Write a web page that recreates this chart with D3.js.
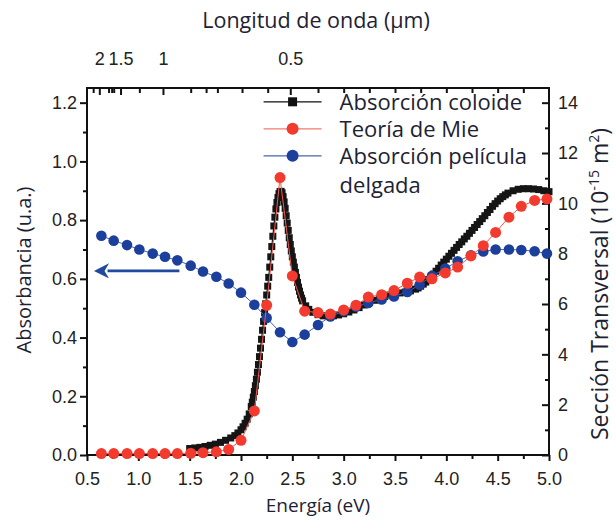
<!DOCTYPE html>
<html>
<head>
<meta charset="utf-8">
<script src="https://cdn.jsdelivr.net/npm/d3@7"></script>
<style>
  body { margin: 0; background: #fff; }
  .tick text { font-family: "Liberation Sans", Arial, sans-serif; font-size: 18px; fill: #222; }
  .title { font-family: "Open Sans", sans-serif; font-size: 19px; fill: #1d2233; }
</style>
</head>
<body>
<div id="chart"></div>
<script>
// Absorción coloide (black squares) - energy (eV) / absorbance
var coloideE = [1.50, 1.55, 1.60, 1.65, 1.70, 1.75, 1.80, 1.85, 1.90, 1.94, 1.97, 2.00, 2.02, 2.04, 2.06, 2.08,
  2.10, 2.11, 2.12, 2.13, 2.14, 2.15, 2.16, 2.17, 2.18, 2.19, 2.20, 2.21, 2.22, 2.23, 2.24, 2.25, 2.26, 2.27, 2.28, 2.29,
  2.30, 2.31, 2.32, 2.33, 2.34, 2.35, 2.36, 2.37, 2.38, 2.39, 2.40, 2.41, 2.42, 2.43, 2.44, 2.45, 2.46, 2.47, 2.48, 2.49,
  2.50, 2.51, 2.52, 2.53, 2.54, 2.55, 2.56, 2.57, 2.58, 2.59, 2.60, 2.63, 2.66, 2.70, 2.75, 2.80, 2.85, 2.90, 2.95,
  3.00, 3.05, 3.10, 3.15, 3.20, 3.25, 3.30, 3.35, 3.40, 3.45, 3.50, 3.55, 3.60, 3.65, 3.70, 3.725, 3.75, 3.775, 3.80, 3.825,
  3.85, 3.875, 3.90, 3.925, 3.95, 3.975, 4.00, 4.025, 4.05, 4.075, 4.10, 4.125, 4.15, 4.175, 4.20, 4.225, 4.25, 4.275,
  4.30, 4.325, 4.35, 4.375, 4.40, 4.425, 4.45, 4.475, 4.50, 4.525, 4.55, 4.575, 4.60, 4.65, 4.70, 4.75, 4.80, 4.85,
  4.90, 4.95, 5.00];
var coloideA = [0.022, 0.024, 0.026, 0.029, 0.033, 0.037, 0.043, 0.050, 0.058, 0.066, 0.075, 0.086, 0.096, 0.108, 0.122, 0.140,
  0.165, 0.180, 0.197, 0.216, 0.236, 0.258, 0.282, 0.308, 0.335, 0.364, 0.394, 0.425, 0.455, 0.485, 0.515, 0.545, 0.575, 0.605, 0.640, 0.675,
  0.710, 0.745, 0.780, 0.810, 0.838, 0.860, 0.877, 0.890, 0.897, 0.898, 0.893, 0.880, 0.862, 0.840, 0.815, 0.790, 0.765, 0.740, 0.717, 0.695,
  0.675, 0.657, 0.640, 0.622, 0.605, 0.588, 0.572, 0.558, 0.545, 0.534, 0.525, 0.508, 0.496, 0.486, 0.478, 0.474, 0.473, 0.474, 0.477,
  0.481, 0.487, 0.494, 0.502, 0.511, 0.519, 0.527, 0.534, 0.540, 0.545, 0.549, 0.552, 0.555, 0.559, 0.565, 0.569, 0.575, 0.582, 0.589, 0.597,
  0.606, 0.616, 0.626, 0.636, 0.647, 0.657, 0.667, 0.677, 0.687, 0.697, 0.707, 0.717, 0.726, 0.736, 0.745, 0.755, 0.765, 0.775,
  0.785, 0.795, 0.805, 0.815, 0.826, 0.836, 0.847, 0.856, 0.865, 0.873, 0.880, 0.886, 0.892, 0.900, 0.905, 0.907, 0.907, 0.906,
  0.904, 0.900, 0.897];

// Teoría de Mie (red) and Absorción película delgada (blue) share one energy grid
var gridE = [0.64, 0.76, 0.89, 1.01, 1.14, 1.26, 1.38, 1.51, 1.63, 1.76, 1.88, 2.00, 2.13, 2.25, 2.38, 2.50, 2.62, 2.75,
  2.87, 3.00, 3.12, 3.24, 3.37, 3.49, 3.62, 3.74, 3.86, 3.99, 4.11, 4.24, 4.36, 4.48, 4.61, 4.73, 4.86, 4.98];
var mieA = [0.005, 0.005, 0.005, 0.005, 0.005, 0.005, 0.005, 0.006, 0.008, 0.011, 0.019, 0.050, 0.150, 0.510, 0.945, 0.610, 0.490, 0.485,
  0.480, 0.494, 0.510, 0.538, 0.546, 0.560, 0.585, 0.606, 0.600, 0.620, 0.640, 0.678, 0.713, 0.758, 0.810, 0.847, 0.867, 0.872];
var peliculaA = [0.747, 0.730, 0.715, 0.700, 0.686, 0.675, 0.663, 0.645, 0.625, 0.607, 0.584, 0.553, 0.512, 0.467, 0.418, 0.385, 0.410, 0.443,
  0.472, 0.490, 0.505, 0.518, 0.530, 0.540, 0.555, 0.580, 0.610, 0.635, 0.660, 0.680, 0.693, 0.700, 0.700, 0.698, 0.694, 0.686];

// axis ticks
var xTicks = [0.5, 1.0, 1.5, 2.0, 2.5, 3.0, 3.5, 4.0, 4.5, 5.0];
var xMinor = [0.75, 1.25, 1.75, 2.25, 2.75, 3.25, 3.75, 4.25, 4.75];
var yTicks = [0.0, 0.2, 0.4, 0.6, 0.8, 1.0, 1.2];
var yMinor = [0.1, 0.3, 0.5, 0.7, 0.9, 1.1];
var y2Ticks = [0, 2, 4, 6, 8, 10, 12, 14];
var y2Minor = [1, 3, 5, 7, 9, 11, 13];
var waveLabels = [2, 1.5, 1, 0.5];            // µm
var topMinorE = [0.56, 0.71, 0.74, 0.76, 1.01, 1.51, 1.66, 1.77, 2.01, 2.26, 2.75, 3.0, 3.25, 3.5, 3.75, 4.0, 4.25, 4.5, 4.75];
var legendLabels = ["Absorción coloide", "Teoría de Mie", "Absorción película", "delgada"];

var svgWidth = 616;
var svgHeight = 521;
var margin = { top: 88, right: 67, bottom: 66, left: 87 };
var width = svgWidth - margin.left - margin.right;
var height = svgHeight - margin.top - margin.bottom;

var svg = d3.select("#chart").append("svg")
  .attr("width", svgWidth)
  .attr("height", svgHeight);

var g = svg.append("g").attr("transform", `translate(${margin.left},${margin.top})`);

var x = d3.scaleLinear().domain([0.5, 5.0]).range([0, width]);
var y = d3.scaleLinear().domain([0, 1.25]).range([height, 0]);
var y2 = d3.scaleLinear().domain([0, 1.25 * 14 / 1.2]).range([height, 0]);

function cleanAxis(sel) {
  sel.select(".domain").remove();
  sel.selectAll(".tick line").attr("stroke", "#111").attr("stroke-width", 2);
}

// bottom axis
g.append("g").attr("transform", `translate(0,${height})`)
  .call(d3.axisBottom(x).tickValues(xTicks).tickSize(6).tickPadding(11).tickFormat(d3.format(".1f")))
  .call(cleanAxis);
g.append("g").attr("transform", `translate(0,${height})`)
  .call(d3.axisBottom(x).tickValues(xMinor).tickSize(4).tickFormat(""))
  .call(cleanAxis);

// left axis
g.append("g")
  .call(d3.axisLeft(y).tickValues(yTicks).tickSize(7).tickPadding(3).tickFormat(d3.format(".1f")))
  .call(cleanAxis);
g.append("g")
  .call(d3.axisLeft(y).tickValues(yMinor).tickSize(4).tickFormat(""))
  .call(cleanAxis);

// right axis (ticks point inward)
g.append("g").attr("transform", `translate(${width},0)`)
  .call(d3.axisRight(y2).tickValues(y2Ticks).tickSize(-7).tickPadding(9).tickFormat(d3.format("d")))
  .call(cleanAxis);
g.append("g").attr("transform", `translate(${width},0)`)
  .call(d3.axisRight(y2).tickValues(y2Minor).tickSize(-4).tickFormat(""))
  .call(cleanAxis);

// top axis: wavelength labels placed at E = 1.24 / lambda
g.append("g")
  .call(d3.axisTop(x).tickValues(waveLabels.map(l => 1.24 / l)).tickSize(-7).tickPadding(23)
    .tickFormat((d, i) => String(waveLabels[i])))
  .call(cleanAxis);
g.append("g")
  .call(d3.axisTop(x).tickValues(topMinorE).tickSize(-5).tickFormat(""))
  .call(cleanAxis);

// frame
g.append("rect")
  .attr("width", width).attr("height", height)
  .attr("fill", "none").attr("stroke", "#111").attr("stroke-width", 2);

// data
var coloide = coloideE.map((e, i) => ({ e: e, a: coloideA[i] }));
var mie = gridE.map((e, i) => ({ e: e, a: mieA[i] }));
var pelicula = gridE.map((e, i) => ({ e: e, a: peliculaA[i] }));

var line = d3.line().x(d => x(d.e)).y(d => y(d.a));

g.append("path").datum(coloide)
  .attr("d", line).attr("fill", "none").attr("stroke", "#111").attr("stroke-width", 1.2);
g.selectAll(".sq").data(coloide).enter().append("rect")
  .attr("class", "sq")
  .attr("x", d => x(d.e) - 3.5).attr("y", d => y(d.a) - 3.5)
  .attr("width", 7).attr("height", 7)
  .attr("fill", "#151515");

g.append("path").datum(pelicula)
  .attr("d", line).attr("fill", "none").attr("stroke", "#4a64ad").attr("stroke-width", 1);
g.selectAll(".bl").data(pelicula).enter().append("circle")
  .attr("class", "bl")
  .attr("cx", d => x(d.e)).attr("cy", d => y(d.a)).attr("r", 5.3)
  .attr("fill", "#1c3f9c");

g.append("path").datum(mie)
  .attr("d", line).attr("fill", "none").attr("stroke", "#f05a4a").attr("stroke-width", 1);
g.selectAll(".rd").data(mie).enter().append("circle")
  .attr("class", "rd")
  .attr("cx", d => x(d.e)).attr("cy", d => y(d.a)).attr("r", 5.5)
  .attr("fill", "#f23b2e");

// arrow pointing to the left axis
svg.append("defs").append("marker")
  .attr("id", "head").attr("viewBox", "0 0 10 10")
  .attr("refX", 1).attr("refY", 5)
  .attr("markerWidth", 8).attr("markerHeight", 5.8)
  .attr("orient", "auto-start-reverse")
  .append("path").attr("d", "M0,0 L10,5 L0,10 L3,5 Z").attr("fill", "#1f4aa0");
g.append("line")
  .attr("x1", x(1.40)).attr("x2", x(0.70))
  .attr("y1", y(0.627)).attr("y2", y(0.627))
  .attr("stroke", "#1f4aa0").attr("stroke-width", 2.6)
  .attr("marker-end", "url(#head)");

// legend
var legend = g.append("g").attr("transform", `translate(${x(2.22)},${y(1.203)})`);
var legItems = [
  { color: "#111", line: "#111", shape: "square" },
  { color: "#f23b2e", line: "#f07a70", shape: "circle" },
  { color: "#1c3f9c", line: "#4a64ad", shape: "circle" }
];
legItems.forEach(function(it, i) {
  var row = legend.append("g").attr("transform", `translate(0,${i * 27})`);
  row.append("line").attr("x1", 0).attr("x2", 58).attr("stroke", it.line).attr("stroke-width", 1.2);
  if (it.shape === "square") {
    row.append("rect").attr("x", 24.5).attr("y", -4.5).attr("width", 9).attr("height", 9).attr("fill", it.color);
  } else {
    row.append("circle").attr("cx", 29).attr("r", 6).attr("fill", it.color);
  }
});
legend.selectAll("text").data(legendLabels).enter().append("text")
  .attr("class", "title")
  .style("font-size", "22px")
  .attr("x", 76)
  .attr("y", (d, i) => (i < 3 ? i * 27 : 83) + 8)
  .text(d => d);

// axis titles
svg.append("text").attr("class", "title")
  .style("font-size", "21.5px")
  .attr("x", 316).attr("y", 28).attr("text-anchor", "middle")
  .text("Longitud de onda (µm)");
svg.append("text").attr("class", "title")
  .attr("x", margin.left + width / 2).attr("y", 512).attr("text-anchor", "middle")
  .text("Energía (eV)");
svg.append("text").attr("class", "title")
  .style("font-size", "20px")
  .attr("transform", "translate(31,270) rotate(-90)")
  .attr("text-anchor", "middle")
  .text("Absorbancia (u.a.)");

var rt = svg.append("text").attr("class", "title")
  .style("font-size", "23px")
  .attr("transform", "translate(608,284) rotate(-90)")
  .attr("text-anchor", "middle");
rt.append("tspan").text("Sección Transversal (10");
rt.append("tspan").attr("dy", -9).attr("font-size", 14).text("-15");
rt.append("tspan").attr("dy", 9).text(" m");
rt.append("tspan").attr("dy", -9).attr("font-size", 14).text("2");
rt.append("tspan").attr("dy", 9).text(")");
</script>
</body>
</html>
